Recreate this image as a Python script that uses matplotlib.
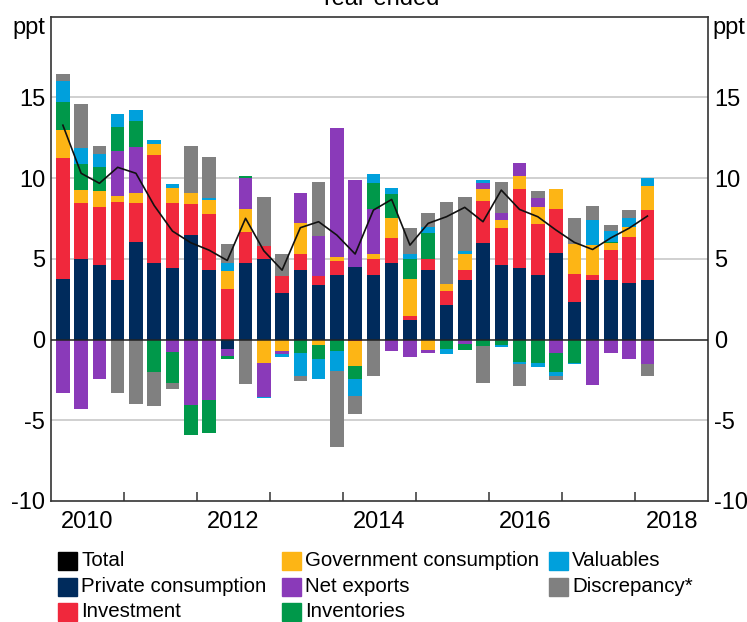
import numpy as np
import pandas as pd
import matplotlib
matplotlib.use("Agg")
import matplotlib.pyplot as plt
from matplotlib.patches import Rectangle
from matplotlib.transforms import blended_transform_factory

plt.rcParams['font.family'] = ['Liberation Sans', 'DejaVu Sans']

# quarterly, year-ended contributions (ppt)
quarters = pd.period_range('2010Q1', '2018Q1', freq='Q')

private_cons = [3.74, 4.96, 4.61, 3.68, 6.06, 4.77, 4.44, 6.47, 4.34, -0.56, 4.77,
                5.02, 2.91, 4.34, 3.35, 4.01, 4.52, 4.01, 4.75, 1.20, 4.34, 2.13,
                3.68, 5.96, 4.61, 4.44, 4.01, 5.37, 2.31, 3.68, 3.68, 3.51, 3.68]
investment = [7.51, 3.48, 3.58, 4.86, 2.40, 6.64, 4.02, 1.90, 3.41, 3.16, 1.89,
              0.79, 1.01, 0.93, 0.58, 0.85, -0.10, 1.01, 1.56, 0.25, 0.68, 0.86,
              0.66, 2.64, 2.32, 4.87, 3.14, 2.74, 1.78, 0.33, 1.86, 2.82, 4.34]
gov_cons = [1.72, 0.84, 0.99, 0.33, 0.60, 0.71, 0.91, 0.69, 0.87, 1.10, 1.43,
            -1.45, -0.72, 1.97, -0.31, 0.27, -1.55, 0.25, 1.20, 2.29, -0.66, 0.44,
            0.99, 0.71, 0.47, 0.84, 1.04, 1.20, 1.80, 1.84, 0.42, 0.66, 1.51]
net_exports = [-3.31, -4.32, -2.42, 2.79, 2.87, 0.00, -0.77, -4.07, -3.72, -0.45, 1.94,
               -2.11, -0.15, 1.82, 2.49, 8.00, 5.34, 2.82, -0.72, -1.08, -0.15, 0.00,
               -0.25, 0.41, 0.47, 0.77, 0.60, -0.83, 0.00, -2.79, -0.83, -1.18, -1.53]
inventories = [1.77, 1.62, 1.49, 1.53, 1.61, -2.03, -1.94, -1.86, -2.05, -0.17, 0.10,
               0.00, 0.00, -0.83, -0.87, -0.72, -0.81, 1.63, 1.53, 1.28, 1.56, -0.56,
               -0.41, -0.41, -0.35, -1.39, -1.43, -1.18, -1.43, 0.00, 0.10, 0.00, 0.00]
valuables = [1.26, 0.95, 0.85, 0.77, 0.67, 0.22, 0.27, 0.00, 0.17, 0.51, 0.00,
             -0.08, -0.21, -1.45, -1.24, -1.22, -1.01, 0.54, 0.33, 0.27, 0.41, -0.35,
             0.17, 0.16, -0.10, -0.14, -0.27, -0.24, -0.10, 1.55, 0.68, 0.52, 0.46]
discrepancy = [0.42, 2.73, 0.49, -3.29, -3.97, -2.11, -0.33, 2.95, 2.54, 1.18, -2.77,
               3.04, 1.35, -0.31, 3.31, -4.74, -1.16, -2.28, 0.00, 1.60, 0.87, 5.11,
               3.31, -2.28, 1.86, -1.35, 0.41, -0.27, 1.62, 0.87, 0.33, 0.51, -0.75]
total = [13.28, 10.30, 9.68, 10.67, 10.30, 8.30, 6.72, 6.00, 5.54, 4.90, 7.51,
         5.50, 4.30, 6.93, 7.30, 6.47, 5.30, 8.02, 8.68, 5.85, 7.20, 7.61,
         8.19, 7.30, 9.26, 8.06, 7.61, 6.78, 6.02, 5.58, 6.30, 6.90, 7.65]

series = [
    ('Private consumption', private_cons, '#002b5c'),
    ('Investment', investment, '#f0283c'),
    ('Government consumption', gov_cons, '#fdb515'),
    ('Net exports', net_exports, '#8a3ab9'),
    ('Inventories', inventories, '#00984a'),
    ('Valuables', valuables, '#00a0dc'),
    ('Discrepancy*', discrepancy, '#808080'),
]

W, H = 747, 622
fig = plt.figure(figsize=(W / 100, H / 100), dpi=100)
ax = fig.add_axes([50.7 / W, 1 - 501 / H, (708.3 - 50.7) / W, (501 - 16.7) / H])

# bar dates sit at the last month of each quarter
x = np.asarray(quarters.year + (quarters.quarter * 3 - 1) / 12, dtype=float)

pos = np.zeros(len(x))
neg = np.zeros(len(x))
for name, vals, col in series:
    v = np.array(vals)
    bottom = np.where(v >= 0, pos, neg)
    ax.bar(x, v, width=0.185, bottom=bottom, color=col, zorder=2)
    pos += np.clip(v, 0, None)
    neg += np.clip(v, None, 0)

ax.plot(x, total, color='#111111', lw=1.2, zorder=4)

# grid
for g in [-5, 5, 10, 15]:
    ax.axhline(g, color='#c8c8c8', lw=1.2, zorder=1)
ax.axhline(0, color='#222222', lw=1.1, zorder=3)

ax.set_xlim(2010, 2019)
ax.set_ylim(-10, 20)

ax.set_yticks([-10, -5, 0, 5, 10, 15])
ax.set_yticklabels(['-10', '-5', '0', '5', '10', '15'])
ax.tick_params(axis='y', length=0, labelsize=17, labelleft=True, labelright=True, pad=4)

ax.set_xticks([2010.5, 2012.5, 2014.5, 2016.5, 2018.5])
ax.set_xticklabels(['2010', '2012', '2014', '2016', '2018'])
ax.set_xticks(range(2011, 2019), minor=True)
ax.tick_params(axis='x', which='major', length=0, labelsize=17, pad=7)
ax.tick_params(axis='x', which='minor', direction='in', length=6.5, width=1.1, color='#333333')

for s in ax.spines.values():
    s.set_color('#333333')
    s.set_linewidth(1.2)

tr = blended_transform_factory(ax.transAxes, ax.transData)
ax.text(-0.008, 20, 'ppt', transform=tr, ha='right', va='top', fontsize=17)
ax.text(1.006, 20, 'ppt', transform=tr, ha='left', va='top', fontsize=17)

fig.text(379 / W, 1 - 5 / H, 'Year-ended', ha='center', va='baseline', fontsize=17)

# legend, laid out in three columns like the original
col_x = [58, 282, 549]
row_y = [560.7, 586.7, 611.7]
entries = [('Total', '#000000', 0, 0)]
slots = [(0, 1), (0, 2), (1, 0), (1, 1), (1, 2), (2, 0), (2, 1)]
for (name, vals, col), (c, r) in zip(series, slots):
    entries.append((name, col, c, r))
for name, col, c, r in entries:
    sx, sy = col_x[c], row_y[r]
    fig.add_artist(Rectangle((sx / W, 1 - (sy + 9) / H), 19 / W, 18 / H,
                             transform=fig.transFigure, color=col))
    fig.text((sx + 23) / W, 1 - sy / H, name, ha='left', va='center', fontsize=14.8)

fig.savefig('out.png', dpi=100)
